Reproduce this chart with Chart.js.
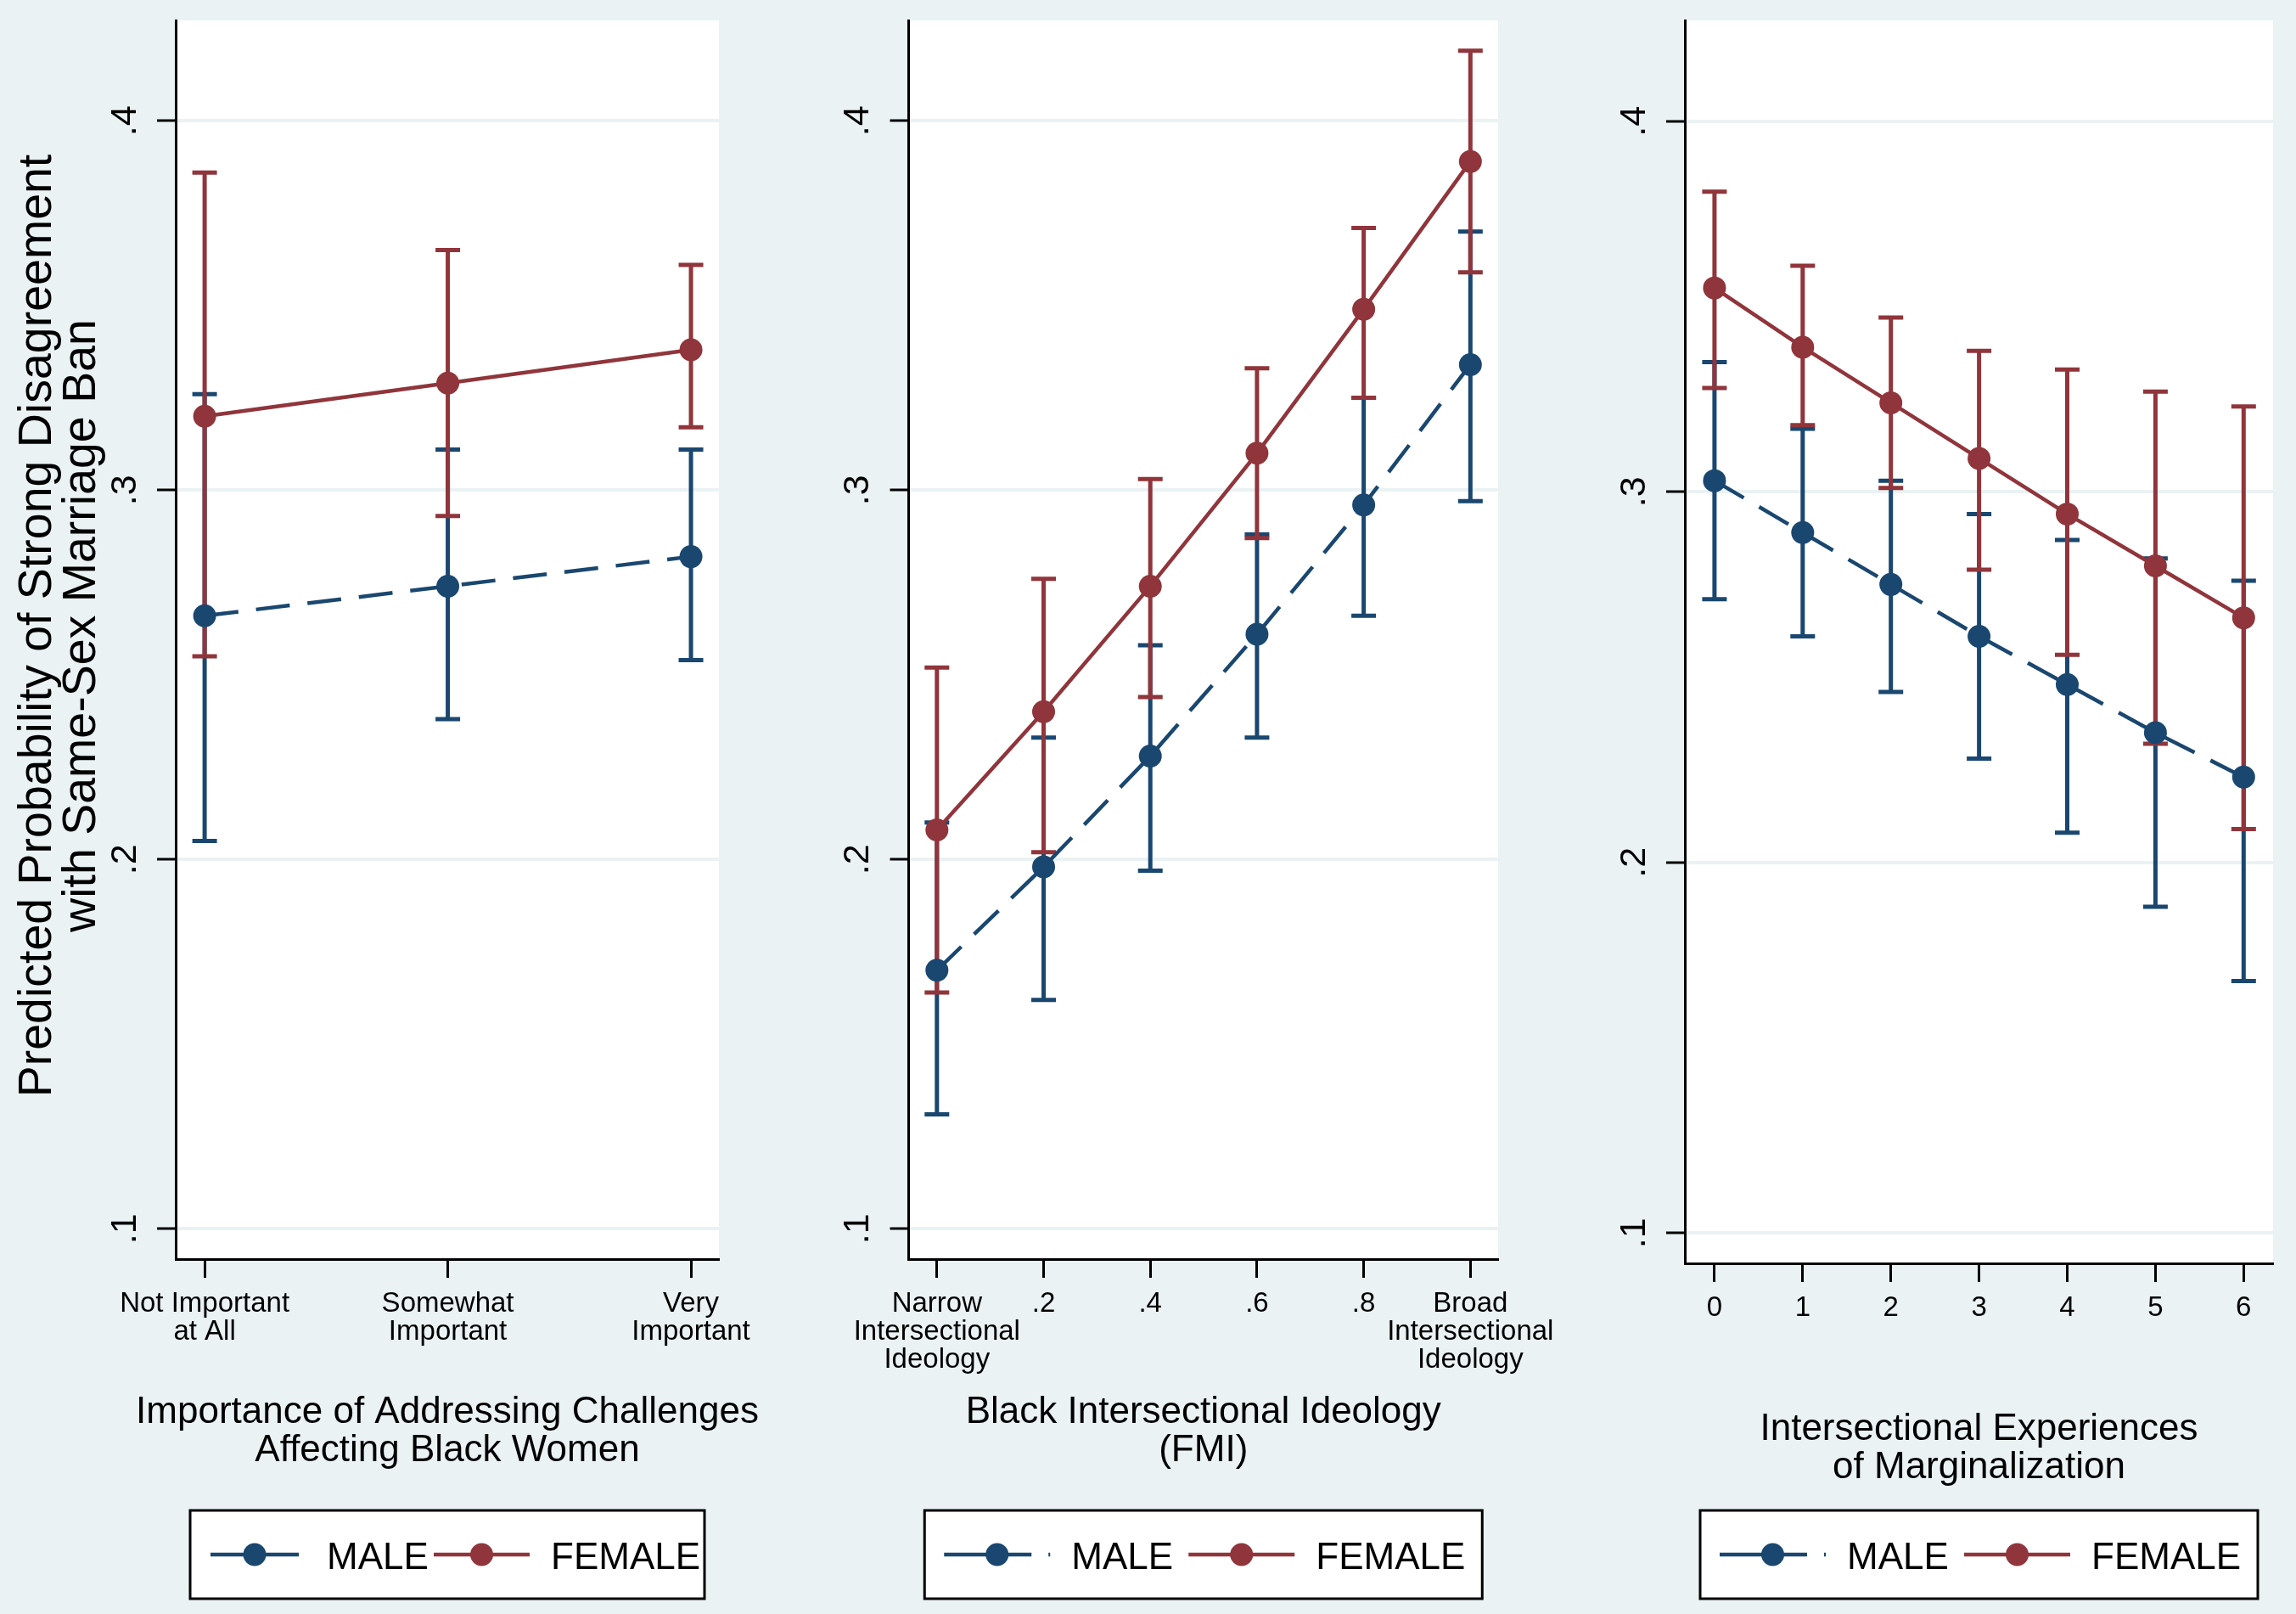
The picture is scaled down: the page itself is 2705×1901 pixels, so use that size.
<!DOCTYPE html>
<html>
<head>
<meta charset="utf-8">
<title>Predicted probability of strong disagreement with same-sex marriage ban</title>
<script src="https://cdn.jsdelivr.net/npm/chart.js@4.4.0/dist/chart.umd.min.js"></script>
<style>
    html, body { margin: 0; padding: 0; background: #eaf2f3; }
    body { width: 2705px; height: 1901px; position: relative; overflow: hidden; }
    canvas { position: absolute; top: 0; }
</style>
</head>
<body>
<canvas id="panel1"></canvas>
<canvas id="panel2"></canvas>
<canvas id="panel3"></canvas>
<script>
// ---- data ----
const seriesNames = ['MALE', 'FEMALE'];
const yTickVals = [0.1, 0.2, 0.3, 0.4];
const yTickLabels = ['.1', '.2', '.3', '.4'];
const yTitle = ['Predicted Probability of Strong Disagreement', 'with Same-Sex Marriage Ban'];

// panel 1: importance of addressing challenges
const importanceX = [1, 2, 3];
const importanceLabels = [['Not Important', 'at All'], ['Somewhat', 'Important'], ['Very', 'Important']];
const importanceTitle = ['Importance of Addressing Challenges', 'Affecting Black Women'];
const importanceMale = [0.266, 0.274, 0.282];
const importanceMaleLo = [0.205, 0.238, 0.254];
const importanceMaleHi = [0.326, 0.311, 0.311];
const importanceFemale = [0.320, 0.329, 0.338];
const importanceFemaleLo = [0.255, 0.293, 0.317];
const importanceFemaleHi = [0.386, 0.365, 0.361];

// panel 2: black intersectional ideology (FMI)
const fmiX = [0, 0.2, 0.4, 0.6, 0.8, 1];
const fmiLabels = [['Narrow', 'Intersectional', 'Ideology'], '.2', '.4', '.6', '.8', ['Broad', 'Intersectional', 'Ideology']];
const fmiTitle = ['Black Intersectional Ideology', '(FMI)'];
const fmiMale = [0.170, 0.198, 0.228, 0.261, 0.296, 0.334];
const fmiMaleLo = [0.131, 0.162, 0.197, 0.233, 0.266, 0.297];
const fmiMaleHi = [0.210, 0.233, 0.258, 0.288, 0.325, 0.370];
const fmiFemale = [0.208, 0.240, 0.274, 0.310, 0.349, 0.389];
const fmiFemaleLo = [0.164, 0.202, 0.244, 0.287, 0.325, 0.359];
const fmiFemaleHi = [0.252, 0.276, 0.303, 0.333, 0.371, 0.419];

// panel 3: intersectional experiences of marginalization
const expX = [0, 1, 2, 3, 4, 5, 6];
const expLabels = ['0', '1', '2', '3', '4', '5', '6'];
const expTitle = ['Intersectional Experiences', 'of Marginalization'];
const expMale = [0.303, 0.289, 0.275, 0.261, 0.248, 0.235, 0.223];
const expMaleLo = [0.271, 0.261, 0.246, 0.228, 0.208, 0.188, 0.168];
const expMaleHi = [0.335, 0.317, 0.303, 0.294, 0.287, 0.282, 0.276];
const expFemale = [0.355, 0.339, 0.324, 0.309, 0.294, 0.280, 0.266];
const expFemaleLo = [0.328, 0.318, 0.301, 0.279, 0.256, 0.232, 0.209];
const expFemaleHi = [0.381, 0.361, 0.347, 0.338, 0.333, 0.327, 0.323];

// ---- style ----
const NAVY = '#1a476f';
const MAROON = '#90353b';
const BG = '#eaf2f3';
const FONT = '"Liberation Sans", Arial, Helvetica, sans-serif';
Chart.defaults.font.family = FONT;
Chart.defaults.color = '#000';

// white plot region
const plotBg = {
    id: 'plotBg',
    beforeDraw(chart) {
        const { ctx, chartArea: a } = chart;
        ctx.save();
        ctx.fillStyle = '#fff';
        ctx.fillRect(a.left, a.top, a.right - a.left, a.bottom - a.top);
        ctx.restore();
    }
};

// capped confidence intervals, drawn under the lines
const ciBars = {
    id: 'ciBars',
    beforeDatasetsDraw(chart) {
        const { ctx, scales: { x, y } } = chart;
        ctx.save();
        chart.data.datasets.forEach(ds => {
            ctx.strokeStyle = ds.borderColor;
            ctx.lineWidth = 5;
            ctx.lineCap = 'butt';
            ds.data.forEach((p, i) => {
                const px = x.getPixelForValue(p.x);
                const top = y.getPixelForValue(ds.hi[i]);
                const bot = y.getPixelForValue(ds.lo[i]);
                ctx.beginPath();
                ctx.moveTo(px, top);
                ctx.lineTo(px, bot);
                ctx.moveTo(px - 14.5, top);
                ctx.lineTo(px + 14.5, top);
                ctx.moveTo(px - 14.5, bot);
                ctx.lineTo(px + 14.5, bot);
                ctx.stroke();
            });
        });
        ctx.restore();
    }
};

// axis titles (drawn by hand so long titles are not squeezed to the plot width)
const axisTitles = {
    id: 'axisTitles',
    afterDraw(chart, args, opts) {
        const { ctx, chartArea: a } = chart;
        ctx.save();
        ctx.fillStyle = '#000';
        ctx.textAlign = 'center';
        ctx.textBaseline = 'alphabetic';
        ctx.font = '44px ' + FONT;
        opts.x.forEach((line, i) => ctx.fillText(line, (a.left + a.right) / 2, opts.xBase + i * 45));
        if (opts.y) {
            ctx.font = '55.5px ' + FONT;
            opts.y.forEach((line, i) => {
                ctx.save();
                ctx.translate(60 + i * 52, 737);
                ctx.rotate(-Math.PI / 2);
                ctx.fillText(line, 0, 0);
                ctx.restore();
            });
        }
        ctx.restore();
    }
};

// boxed legend under each panel
const boxLegend = {
    id: 'boxLegend',
    afterDraw(chart, args, opts) {
        const { ctx, chartArea: a } = chart;
        const left = (a.left + a.right) / 2 - opts.width / 2;
        ctx.save();
        ctx.fillStyle = '#fff';
        ctx.fillRect(left, opts.top, opts.width, opts.height);
        ctx.strokeStyle = '#000';
        ctx.lineWidth = 3;
        ctx.strokeRect(left, opts.top, opts.width, opts.height);
        const cy = opts.top + 52;
        chart.data.datasets.forEach((ds, i) => {
            const k = opts.keys[i];
            ctx.strokeStyle = ds.borderColor;
            ctx.lineWidth = 4.5;
            ctx.setLineDash(k.dash || []);
            ctx.beginPath();
            ctx.moveTo(left + k.x, cy);
            ctx.lineTo(left + k.x + k.len, cy);
            ctx.stroke();
            ctx.setLineDash([]);
            ctx.fillStyle = ds.borderColor;
            ctx.beginPath();
            ctx.arc(left + k.x + k.len / 2, cy, 13.5, 0, Math.PI * 2);
            ctx.fill();
            ctx.fillStyle = '#000';
            ctx.font = '44px ' + FONT;
            ctx.textAlign = 'left';
            ctx.textBaseline = 'alphabetic';
            ctx.fillText(ds.label, left + k.text, opts.top + 69);
        });
        ctx.restore();
    }
};

function points(xs, ys) {
    return xs.map((x, i) => ({ x: x, y: ys[i] }));
}

function makePanel(id, p) {
    const canvas = document.getElementById(id);
    canvas.width = p.canvasW;
    canvas.height = 1901;
    canvas.style.left = p.canvasLeft + 'px';
    canvas.style.width = p.canvasW + 'px';
    canvas.style.height = '1901px';

    return new Chart(canvas.getContext('2d'), {
        type: 'line',
        data: {
            datasets: [{
                label: seriesNames[0],
                data: points(p.xs, p.male),
                lo: p.maleLo,
                hi: p.maleHi,
                borderColor: NAVY,
                backgroundColor: NAVY,
                borderWidth: 4.5,
                borderDash: [40, 21],
                pointRadius: 13.5,
                pointBorderWidth: 0,
                pointBackgroundColor: NAVY,
                order: 2
            }, {
                label: seriesNames[1],
                data: points(p.xs, p.female),
                lo: p.femaleLo,
                hi: p.femaleHi,
                borderColor: MAROON,
                backgroundColor: MAROON,
                borderWidth: 4.5,
                pointRadius: 13.5,
                pointBorderWidth: 0,
                pointBackgroundColor: MAROON,
                order: 1
            }]
        },
        options: {
            responsive: false,
            animation: false,
            devicePixelRatio: 1,
            layout: { padding: { left: 0, top: 24, right: p.padRight, bottom: p.padBottom } },
            plugins: {
                legend: { display: false },
                tooltip: { enabled: false },
                boxLegend: { top: 1779, height: 104, width: p.legendW, keys: p.legendKeys },
                axisTitles: { x: p.title, xBase: p.titleBase, y: p.showYTitle ? yTitle : null }
            },
            scales: {
                x: {
                    type: 'linear',
                    min: p.xMin,
                    max: p.xMax,
                    afterBuildTicks: s => { s.ticks = p.xs.map(v => ({ value: v })); },
                    afterFit: s => { s.height = p.xHeight; s.paddingLeft = 0; s.paddingRight = 0; },
                    ticks: {
                        autoSkip: false,
                        maxRotation: 0,
                        minRotation: 0,
                        padding: 14,
                        font: { size: 33, lineHeight: 1.0 },
                        color: '#000',
                        callback: (v, i) => p.labels[i]
                    },
                    grid: { drawOnChartArea: false, tickLength: 22, tickColor: '#000', tickWidth: 3 },
                    border: { color: '#000', width: 3 }
                },
                y: {
                    min: 0.0918,
                    max: 0.4272,
                    afterBuildTicks: s => { s.ticks = yTickVals.map(v => ({ value: v })); },
                    afterFit: s => { s.width = p.yWidth; s.paddingTop = 0; s.paddingBottom = 0; },
                    ticks: {
                        minRotation: 90,
                        maxRotation: 90,
                        crossAlign: 'center',
                        padding: 19,
                        font: { size: 43 },
                        color: '#000',
                        callback: (v, i) => yTickLabels[i]
                    },
                    grid: { color: BG, lineWidth: 4, tickLength: 22, tickColor: '#000', tickWidth: 3 },
                    border: { color: '#000', width: 3 }
                }
            }
        },
        plugins: [plotBg, ciBars, axisTitles, boxLegend]
    });
}

const wideKeys = [
    { x: 23, len: 125, dash: [103, 20], text: 173 },
    { x: 311, len: 125, text: 461 }
];

makePanel('panel1', {
    canvasLeft: 0, canvasW: 900, yWidth: 207, padRight: 53, xHeight: 245.5, padBottom: 172.5,
    xMin: 0.881, xMax: 3.115, showYTitle: true, titleBase: 1676,
    legendW: 606, legendKeys: [{ x: 24, len: 104, text: 161 }, { x: 287, len: 113, text: 425 }],
    xs: importanceX, labels: importanceLabels, title: importanceTitle,
    male: importanceMale, maleLo: importanceMaleLo, maleHi: importanceMaleHi,
    female: importanceFemale, femaleLo: importanceFemaleLo, femaleHi: importanceFemaleHi
});

makePanel('panel2', {
    canvasLeft: 900, canvasW: 960, yWidth: 170.5, padRight: 95, xHeight: 245.5, padBottom: 172.5,
    xMin: -0.053, xMax: 1.052, showYTitle: false, titleBase: 1676,
    legendW: 657, legendKeys: wideKeys,
    xs: fmiX, labels: fmiLabels, title: fmiTitle,
    male: fmiMale, maleLo: fmiMaleLo, maleHi: fmiMaleHi,
    female: fmiFemale, femaleLo: fmiFemaleLo, femaleHi: fmiFemaleHi
});

makePanel('panel3', {
    canvasLeft: 1810, canvasW: 895, yWidth: 175, padRight: 27, xHeight: 260.5, padBottom: 152.5,
    xMin: -0.336, xMax: 6.334, showYTitle: false, titleBase: 1696,
    legendW: 657, legendKeys: wideKeys,
    xs: expX, labels: expLabels, title: expTitle,
    male: expMale, maleLo: expMaleLo, maleHi: expMaleHi,
    female: expFemale, femaleLo: expFemaleLo, femaleHi: expFemaleHi
});
</script>
</body>
</html>
